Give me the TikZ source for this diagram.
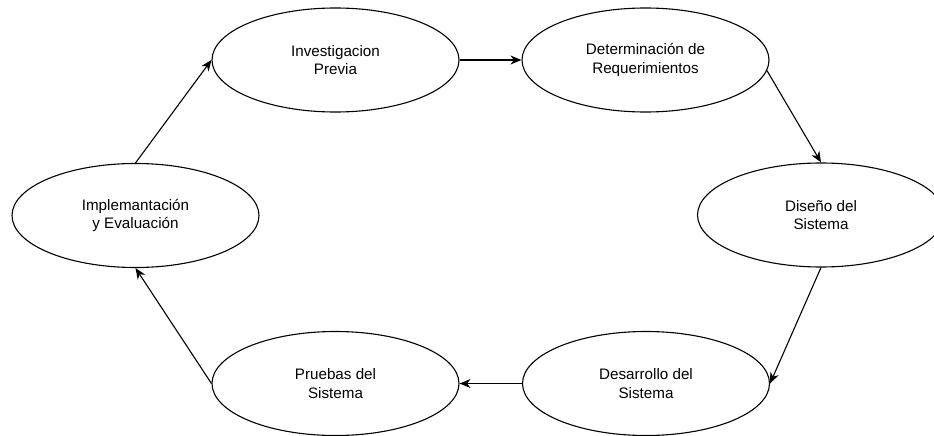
\documentclass[tikz,border=0pt]{standalone}
\usepackage{fontspec}
\setmainfont{Liberation Sans}
\usetikzlibrary{shapes.geometric,arrows.meta}
\tikzset{
  phase/.style={draw, ellipse, line width=1.1pt, minimum width=247pt, minimum height=104pt,
    inner sep=0pt, align=center, font=\fontsize{15.2pt}{18.5pt}\selectfont},
  flow/.style={line width=1.1pt, -{Stealth[length=11pt,width=9pt,inset=3.5pt]}}
}
\begin{document}
\begin{tikzpicture}[x=1pt,y=-1pt]
  \useasboundingbox (0,0) rectangle (934,436);
  \clip (0,0) rectangle (934,436);
  \fill[white] (0,0) rectangle (934,436);
  \node[phase] (inv) at (335.5,60) {Investigacion\\Previa};
  \node[phase] (det) at (645.5,60) {Determinación de\\Requerimientos};
  \node[phase] (dis) at (821,215) {Diseño del\\Sistema};
  \node[phase] (des) at (646,383.5) {Desarrollo del\\Sistema};
  \node[phase] (pru) at (335.5,383.5) {Pruebas del\\Sistema};
  \node[phase] (imp) at (135.5,215.5) {Implemantación\\y Evaluación};
  \draw[flow] (imp.north) -- (inv.west);
  \draw[flow] (inv.east) -- (det.west);
  \draw[flow] (det.-5.5) -- (dis.north);
  \draw[flow] (dis.south) -- (des.east);
  \draw[flow] (des.west) -- (pru.east);
  \draw[flow] (pru.west) -- (imp.south);
\end{tikzpicture}
\end{document}
